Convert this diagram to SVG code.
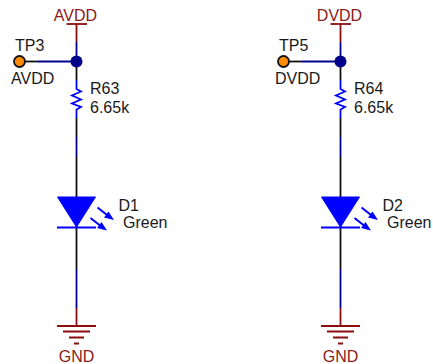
<svg xmlns="http://www.w3.org/2000/svg" width="433" height="364" viewBox="0 0 433 364">
<style>
text{font-family:"Liberation Sans",Arial,sans-serif;font-size:16px;fill:#1a1a1a}
text.net{fill:#8b1a1a}
.w{fill:none;stroke-width:1.8}
.k{stroke:#111}.n{stroke:#00008b}.r{stroke:#8b0d0d}.b{stroke:#0000ff}
.pw{fill:none;stroke:#8b0d0d;stroke-width:1.8}
.led{fill:#0000ff;stroke:#0000ff}
</style>
<defs>
<g id="diode"><path class="led" d="M-19 0H19L0 30Z" stroke-width="1"/><path d="M-19.500 30.500H19.500" stroke="#0000ff" stroke-width="1.800"/><path d="M21 10.500L35 21.500M14 21L28 32" stroke="#0000ff" stroke-width="2" fill="none"/><path d="M37.500 23L27.500 20.500L32 14.500ZM30.500 33.500L20.500 31L25 25Z" fill="#0000ff"/></g>
<g id="ground"><path class="pw" d="M-19.500 0H19.500M-13.500 5.500H13.500M-7.500 11.500H7.500M-2.500 17.500H2.500"/></g>
</defs>
<g id="connectors">
<g id="wires-left" class="w">
<path class="r" d="M76.500 24V42"/><path class="n" d="M76.500 42V61"/><path class="k" d="M76.500 61V80"/>
<path class="k" d="M25 61.500H38"/><path class="n" d="M38 61.500H76.500"/>
<path class="k" d="M76.500 118V137"/><path class="n" d="M76.500 137V157"/><path class="k" d="M76.500 157V269"/>
<path class="n" d="M76.500 269V308"/><path class="r" d="M76.500 308V326"/>
</g>
<g id="wires-right" class="w">
<path class="r" d="M340.500 24V42"/><path class="n" d="M340.500 42V61"/><path class="k" d="M340.500 61V80"/>
<path class="k" d="M289 61.500H302"/><path class="n" d="M302 61.500H340.500"/>
<path class="k" d="M340.500 118V137"/><path class="n" d="M340.500 137V157"/><path class="k" d="M340.500 157V269"/>
<path class="n" d="M340.500 269V308"/><path class="r" d="M340.500 308V326"/>
</g>
</g>
<g id="AVDD-power"><path class="pw" d="M66.500 24H87"/><text class="net" x="75.500" y="21" text-anchor="middle">AVDD</text></g>
<g id="DVDD-power"><path class="pw" d="M330.500 24H351"/><text class="net" x="339.500" y="21" text-anchor="middle">DVDD</text></g>
<g id="junction-left"><circle cx="76.500" cy="61.500" r="6" fill="#00008b"/></g>
<g id="junction-right"><circle cx="340.500" cy="61.500" r="6" fill="#00008b"/></g>
<g id="TP3"><circle cx="19.500" cy="61.500" r="5.500" fill="#ff8c00" stroke="#111" stroke-width="1.800"/><text x="15" y="51">TP3</text><text x="11" y="84">AVDD</text></g>
<g id="TP5"><circle cx="283.500" cy="61.500" r="5.500" fill="#ff8c00" stroke="#111" stroke-width="1.800"/><text x="279" y="51">TP5</text><text x="275" y="84">DVDD</text></g>
<g id="R63"><path class="w b" d="M76.500 80V89L81 91.500L72 95.500L81 99.500L72 103.500L81 107L76.500 109.500V118"/><text x="90" y="94">R63</text><text x="90" y="113">6.65k</text></g>
<g id="R64"><path class="w b" d="M340.500 80V89L345 91.500L336 95.500L345 99.500L336 103.500L345 107L340.500 109.500V118"/><text x="354" y="94">R64</text><text x="354" y="113">6.65k</text></g>
<g id="D1"><use href="#diode" x="76.500" y="197"/><text x="118.500" y="210.500">D1</text><text x="123" y="227.500">Green</text></g>
<g id="D2"><use href="#diode" x="340.500" y="197"/><text x="382.500" y="210.500">D2</text><text x="387" y="227.500">Green</text></g>
<g id="GND-left"><use href="#ground" x="76.500" y="326"/><text class="net" x="76.500" y="361.500" text-anchor="middle">GND</text></g>
<g id="GND-right"><use href="#ground" x="340.500" y="326"/><text class="net" x="340.500" y="361.500" text-anchor="middle">GND</text></g>
</svg>
